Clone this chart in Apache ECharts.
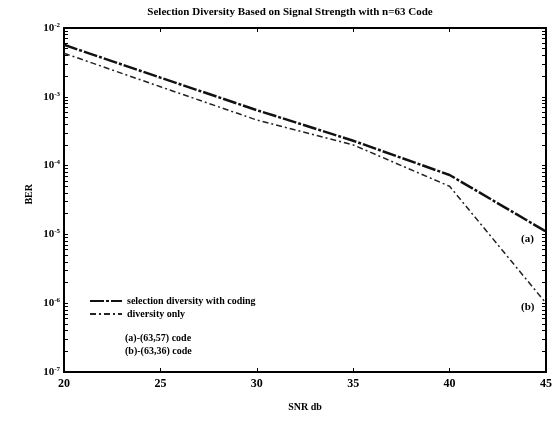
<!DOCTYPE html>
<html>
<head>
<meta charset="utf-8">
<script src="https://cdn.jsdelivr.net/npm/echarts@6/dist/echarts.min.js"></script>
<style>
  html, body { margin: 0; padding: 0; background: #fff; }
  #main { width: 557px; height: 421px; }
</style>
</head>
<body>
<div id="main"></div>
<script>
// SNR (dB) sample points
let snr = [20, 25, 30, 35, 40, 45];
// upper curve, ends at (a)
let codedBer = [5.7e-3, 1.9e-3, 6.4e-4, 2.3e-4, 7.3e-5, 1.1e-5];
// lower curve, ends at (b)
let diversityBer = [4.3e-3, 1.4e-3, 4.6e-4, 2.0e-4, 5.0e-5, 1.0e-6];
let xTicks = [20, 25, 30, 35, 40, 45];
let yDecades = [1e-7, 1e-6, 1e-5, 1e-4, 1e-3, 1e-2];

let container = document.querySelector('#main');
let chart = echarts.init(container);
let font = '"Liberation Serif", "DejaVu Serif", serif';

// minor ticks 2..9 inside every decade
let yMinor = [];
yDecades.forEach((d, i) => {
  yMinor.push(d);
  if (i < yDecades.length - 1) {
    for (let k = 2; k <= 9; k++) yMinor.push(d * k);
  }
});

let pairs = (ys) => snr.map((s, i) => [s, ys[i]]);

let axisLine = { show: true, lineStyle: { color: '#000', width: 2 } };

chart.setOption({
  backgroundColor: '#fff',
  animation: false,
  title: {
    text: 'Selection Diversity Based on Signal Strength with n=63 Code',
    left: 285,
    textAlign: 'center',
    top: 2,
    textStyle: { fontFamily: font, fontWeight: 'bold', fontSize: 11, color: '#000' }
  },
  grid: { left: 64, right: 11, top: 28, bottom: 49 },
  legend: {
    orient: 'vertical',
    left: 84,
    top: 291,
    itemWidth: 32,
    itemHeight: 8,
    itemGap: 3,
    itemStyle: { opacity: 0 },
    textStyle: { fontFamily: font, fontWeight: 'bold', fontSize: 10, color: '#000' },
    data: ['selection diversity with coding', 'diversity only']
  },
  graphic: [
    { type: 'text', left: 125, top: 333, style: { text: '(a)-(63,57) code', font: 'bold 10px ' + font, fill: '#000' } },
    { type: 'text', left: 125, top: 346, style: { text: '(b)-(63,36) code', font: 'bold 10px ' + font, fill: '#000' } },
    { type: 'text', left: 24, top: 184, rotation: Math.PI / 2, style: { text: 'BER', font: 'bold 10px ' + font, fill: '#000' } }
  ],
  xAxis: [{
    type: 'value',
    min: 20,
    max: 45,
    interval: 5,
    name: 'SNR db',
    nameLocation: 'middle',
    nameGap: 30,
    nameTextStyle: { fontFamily: font, fontWeight: 'bold', fontSize: 10, color: '#000' },
    axisLine: axisLine,
    axisTick: { inside: true, length: 4, lineStyle: { color: '#000' }, customValues: xTicks },
    axisLabel: { fontFamily: font, fontWeight: 'bold', fontSize: 12, color: '#000', margin: 6, customValues: xTicks },
    splitLine: { show: false }
  }, {
    type: 'value',
    position: 'top',
    min: 20,
    max: 45,
    interval: 5,
    axisLine: axisLine,
    axisTick: { inside: true, length: 4, lineStyle: { color: '#000' } },
    axisLabel: { show: false },
    splitLine: { show: false }
  }],
  yAxis: [{
    type: 'log',
    logBase: 10,
    min: 1e-7,
    max: 1e-2,
    axisLine: axisLine,
    axisTick: { inside: true, length: 4, lineStyle: { color: '#000' }, customValues: yMinor },
    axisLabel: {
      customValues: yDecades,
      margin: 4,
      formatter: (v) => '{b|10}{s|' + Math.round(Math.log10(v)) + '}',
      rich: {
        b: { fontFamily: font, fontWeight: 'bold', fontSize: 11, color: '#000' },
        s: { fontFamily: font, fontWeight: 'bold', fontSize: 7, color: '#000', padding: [0, 0, 6, 0] }
      }
    },
    splitLine: { show: false }
  }, {
    type: 'log',
    logBase: 10,
    position: 'right',
    min: 1e-7,
    max: 1e-2,
    axisLine: axisLine,
    axisTick: { inside: true, length: 4, lineStyle: { color: '#000' }, customValues: yMinor },
    axisLabel: { show: false },
    splitLine: { show: false }
  }],
  series: [{
    name: 'selection diversity with coding',
    type: 'line',
    symbol: 'none',
    data: pairs(codedBer),
    lineStyle: { color: '#111', width: 2.5, type: [14, 2, 3, 2] },
    itemStyle: { color: '#111' },
    endLabel: {
      show: true,
      formatter: '(a)',
      offset: [-33, 8],
      fontFamily: font, fontWeight: 'bold', fontSize: 11, color: '#000'
    }
  }, {
    name: 'diversity only',
    type: 'line',
    symbol: 'none',
    data: pairs(diversityBer),
    lineStyle: { color: '#222', width: 1.5, type: [6, 3, 2, 3] },
    itemStyle: { color: '#222' },
    endLabel: {
      show: true,
      formatter: '(b)',
      offset: [-33, 4],
      fontFamily: font, fontWeight: 'bold', fontSize: 11, color: '#000'
    }
  }]
});
</script>
</body>
</html>
